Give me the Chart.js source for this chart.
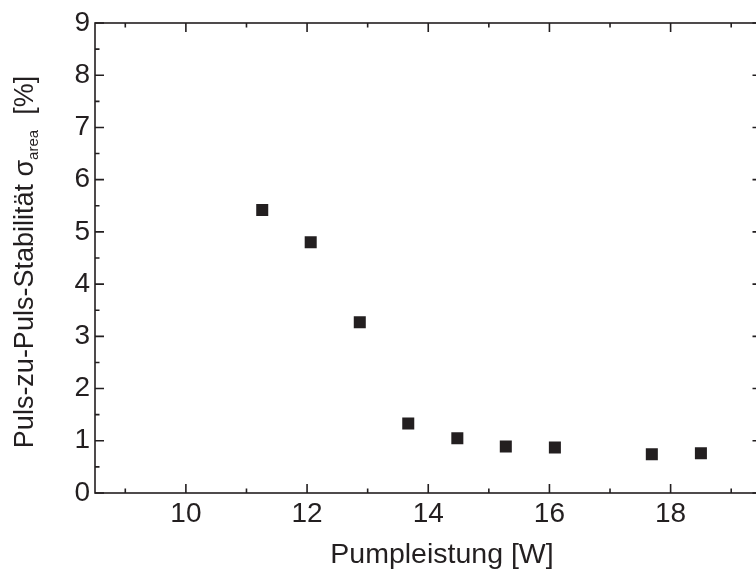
<!DOCTYPE html>
<html><head><meta charset="utf-8">
<script src="https://cdn.jsdelivr.net/npm/chart.js@4/dist/chart.umd.min.js"></script>
<style>
html,body{margin:0;padding:0;overflow:hidden;background:#fff;width:756px;height:573px}
#wrap{position:absolute;left:0;top:0;width:770px;height:573px}
</style></head><body>
<div id="wrap"><canvas id="c" width="770" height="573"></canvas></div>
<script>
// ---- data ----
const pumpPower = [11.26, 12.06, 12.87, 13.67, 14.48, 15.28, 16.09, 17.69, 18.50];
const stability = [5.42, 4.80, 3.27, 1.33, 1.05, 0.89, 0.87, 0.74, 0.76];
const xMajorTicks = [10, 12, 14, 16, 18];
const xMinorTicks = [9, 11, 13, 15, 17, 19];
const yMajorTicks = [0, 1, 2, 3, 4, 5, 6, 7, 8, 9];
const yMinorTicks = [0.5, 1.5, 2.5, 3.5, 4.5, 5.5, 6.5, 7.5, 8.5];
const xTitle = 'Pumpleistung [W]';
const yTitleMain = 'Puls-zu-Puls-Stabilität σ';
const yTitleSub = 'area';
const yTitleEnd = '  [%]';

const ink = '#231f20';
const fam = '"Liberation Sans", Arial, Helvetica, sans-serif';

const framePlugin = {
  id: 'frame',
  beforeDatasetsDraw(chart) {
    const {ctx, chartArea: a, scales: {x, y}} = chart;
    ctx.save();
    ctx.strokeStyle = ink;
    ctx.lineWidth = 1.6;
    ctx.strokeRect(a.left, a.top, a.right - a.left, a.bottom - a.top);
    const majL = 9, minL = 4.5;
    ctx.beginPath();
    const xt = (vals, len) => vals.forEach(v => {
      const px = x.getPixelForValue(v);
      ctx.moveTo(px, a.bottom); ctx.lineTo(px, a.bottom - len);
      ctx.moveTo(px, a.top); ctx.lineTo(px, a.top + len);
    });
    const yt = (vals, len) => vals.forEach(v => {
      const py = y.getPixelForValue(v);
      ctx.moveTo(a.left, py); ctx.lineTo(a.left + len, py);
      ctx.moveTo(a.right, py); ctx.lineTo(a.right - len, py);
    });
    xt(xMajorTicks, majL); xt(xMinorTicks, minL);
    yt(yMajorTicks, majL); yt(yMinorTicks, minL);
    ctx.stroke();
    ctx.restore();
  },
  afterDraw(chart) {
    const {ctx} = chart;
    ctx.save();
    ctx.fillStyle = ink;
    // x title
    ctx.font = '28.5px ' + fam;
    ctx.textAlign = 'center';
    ctx.textBaseline = 'alphabetic';
    ctx.fillText(xTitle, 442, 563);
    // y title with subscript
    const mainFont = '27px ' + fam, subFont = '15px ' + fam;
    ctx.font = mainFont; const w1 = ctx.measureText(yTitleMain).width;
    ctx.font = subFont; const w2 = ctx.measureText(yTitleSub).width;
    ctx.font = mainFont; const w3 = ctx.measureText(yTitleEnd).width;
    const total = w1 + w2 + w3;
    ctx.translate(33, 262);
    ctx.rotate(-Math.PI / 2);
    ctx.textAlign = 'left';
    let xs = -total / 2;
    ctx.font = mainFont; ctx.fillText(yTitleMain, xs, 0); xs += w1;
    ctx.font = subFont; ctx.fillText(yTitleSub, xs, 5); xs += w2;
    ctx.font = mainFont; ctx.fillText(yTitleEnd, xs, 0);
    ctx.restore();
  }
};

new Chart(document.getElementById('c'), {
  type: 'scatter',
  data: {
    datasets: [{
      data: pumpPower.map((v, i) => ({x: v, y: stability[i]})),
      pointStyle: 'rect',
      pointRadius: 8.5,
      pointHoverRadius: 8.5,
      backgroundColor: ink,
      borderColor: ink,
      borderWidth: 0
    }]
  },
  options: {
    responsive: false,
    animation: false,
    devicePixelRatio: 1,
    layout: {padding: {top: 23, right: 5, left: 0, bottom: 0}},
    plugins: {legend: {display: false}, tooltip: {enabled: false}},
    scales: {
      x: {
        type: 'linear', min: 8.5, max: 19.5,
        afterBuildTicks: s => { s.ticks = xMajorTicks.map(v => ({value: v})); },
        afterFit: s => { s.height = 80; },
        grid: {display: false, drawTicks: false},
        border: {display: false},
        ticks: {color: ink, font: {family: fam, size: 28}, padding: 4, maxRotation: 0, autoSkip: false}
      },
      y: {
        type: 'linear', min: 0, max: 9,
        afterBuildTicks: s => { s.ticks = yMajorTicks.map(v => ({value: v})); },
        afterFit: s => { s.width = 95; },
        grid: {display: false, drawTicks: false},
        border: {display: false},
        ticks: {color: ink, font: {family: fam, size: 28}, padding: 5, autoSkip: false}
      }
    }
  },
  plugins: [framePlugin]
});
</script>
</body></html>
